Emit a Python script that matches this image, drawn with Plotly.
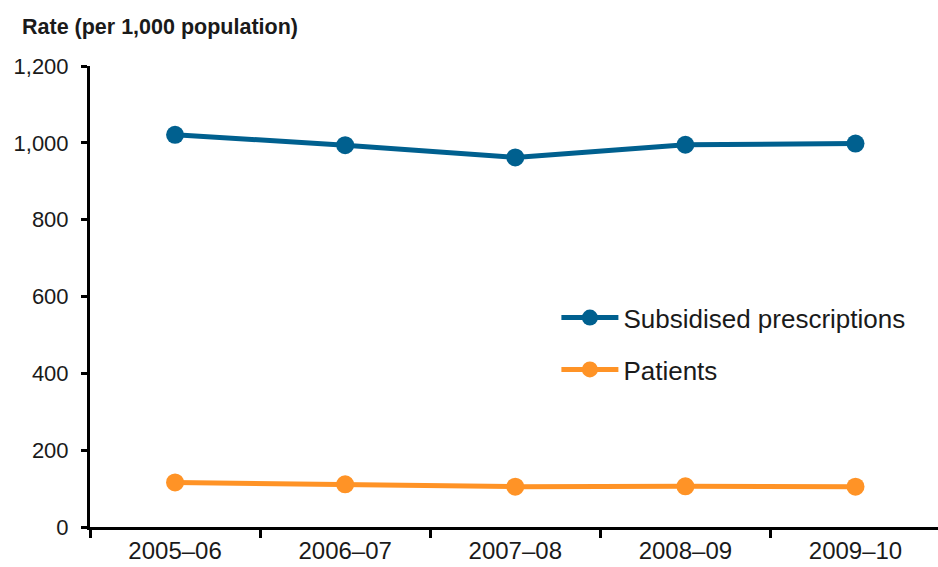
import plotly.graph_objects as go

years = ["2005–06", "2006–07", "2007–08", "2008–09", "2009–10"]
prescriptions = [1021, 994, 962, 995, 998]
patients = [116, 111, 105, 106, 105]

BLUE = "#00608f"
ORANGE = "#ff9326"
FONT = "Liberation Sans, Arial, sans-serif"

fig = go.Figure()
fig.add_trace(go.Scatter(
    x=years, y=prescriptions, name="Subsidised prescriptions",
    mode="lines+markers", legendgroup="a",
    line=dict(color=BLUE, width=5), marker=dict(color=BLUE, size=18),
))
fig.add_trace(go.Scatter(
    x=years, y=patients, name="Patients",
    mode="lines+markers", legendgroup="b",
    line=dict(color=ORANGE, width=5), marker=dict(color=ORANGE, size=18),
))

fig.update_layout(
    width=938, height=567,
    margin=dict(l=90, r=0, t=66, b=40, autoexpand=False),
    paper_bgcolor="white", plot_bgcolor="white",
    font=dict(family=FONT, color="#1a1a1a"),
    showlegend=True,
    legend=dict(
        x=0.55, y=0.505, xanchor="left", yanchor="top",
        font=dict(size=26, color="#1a1a1a"),
        itemwidth=57,
        tracegroupgap=15, bgcolor="rgba(0,0,0,0)",
    ),
    xaxis=dict(
        type="category", range=[-0.5, 4.485], automargin=False,
        showline=True, linecolor="black", linewidth=3,
        ticks="outside", tickson="boundaries", ticklen=8, tickwidth=3, tickcolor="black",
        tickfont=dict(size=24, color="#1a1a1a"),
        showgrid=False, zeroline=False,
    ),
    yaxis=dict(
        range=[0, 1200], tickvals=[0, 200, 400, 600, 800, 1000, 1200],
        tickformat=",d", automargin=False,
        showline=True, linecolor="black", linewidth=3,
        ticks="outside", ticklen=6, tickwidth=3, tickcolor="black",
        tickfont=dict(size=22, color="#1a1a1a"),
        ticklabelstandoff=8,
        showgrid=False, zeroline=False,
    ),
    annotations=[dict(
        text="<b>Rate (per 1,000 population)</b>",
        xref="paper", yref="paper", x=-0.083, y=1.085,
        xanchor="left", yanchor="middle", showarrow=False,
        font=dict(size=21.5, color="#1a1a1a", family=FONT),
    )],
)

fig.write_html(
    "out.html",
    config={"displayModeBar": False},
    post_script="document.body.style.margin='0';document.body.style.overflow='hidden';",
)
